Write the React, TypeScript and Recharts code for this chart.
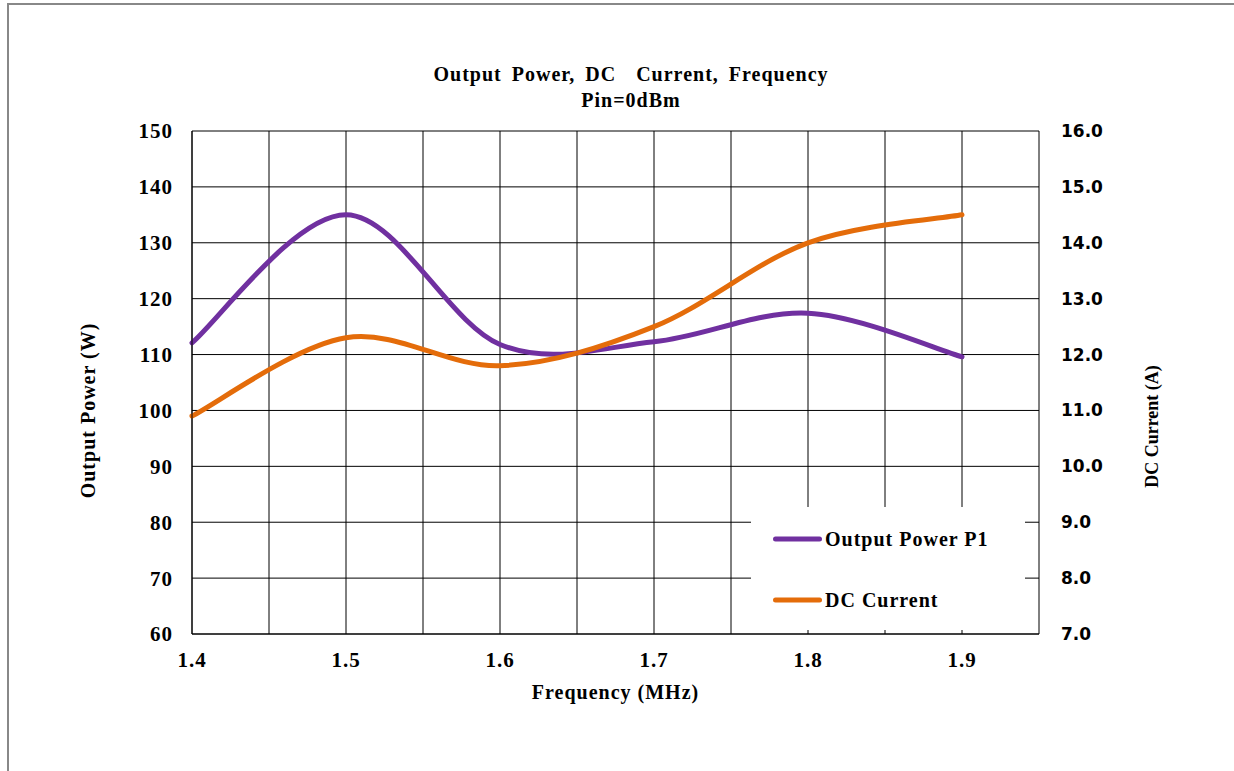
import { CartesianGrid, Legend, Line, LineChart, XAxis, YAxis } from "recharts";

const frequency = [1.4, 1.5, 1.6, 1.7, 1.8, 1.9];
const outputPower = [112.1, 135.0, 111.8, 112.3, 117.4, 109.6];
const dcCurrent = [10.9, 12.3, 11.8, 12.5, 14.0, 14.5];

const xTicks = [1.4, 1.45, 1.5, 1.55, 1.6, 1.65, 1.7, 1.75, 1.8, 1.85, 1.9, 1.95];
const powerTicks = [60, 70, 80, 90, 100, 110, 120, 130, 140, 150];
const currentTicks = [7, 8, 9, 10, 11, 12, 13, 14, 15, 16];
const legendOrder = ["power", "current"];

const PURPLE = "#7030a0";
const ORANGE = "#e46c0a";
const SERIF = "'Liberation Serif', 'Times New Roman', serif";

const data = frequency.map((f, i) => ({ f, power: outputPower[i], current: dcCurrent[i] }));

// Excel-like smoothed line (uniform Catmull-Rom)
function smoothCurve(context: any) {
  let pts: number[][] = [];
  return {
    areaStart() {},
    areaEnd() {},
    lineStart() {
      pts = [];
    },
    point(x: number, y: number) {
      pts.push([+x, +y]);
    },
    lineEnd() {
      if (!pts.length) return;
      context.moveTo(pts[0][0], pts[0][1]);
      for (let i = 0; i < pts.length - 1; i++) {
        const p0 = pts[i - 1] || pts[i];
        const p1 = pts[i];
        const p2 = pts[i + 1];
        const p3 = pts[i + 2] || p2;
        context.bezierCurveTo(
          p1[0] + (p2[0] - p0[0]) / 6,
          p1[1] + (p2[1] - p0[1]) / 6,
          p2[0] - (p3[0] - p1[0]) / 6,
          p2[1] - (p3[1] - p1[1]) / 6,
          p2[0],
          p2[1]
        );
      }
    },
  };
}

const xLabel = (v: number) => {
  const r = Math.round(v * 100);
  return r % 10 === 0 && r < 195 ? v.toFixed(1) : "";
};

function LegendBox({ payload }: any) {
  const items = legendOrder
    .map((k) => (payload || []).find((p: any) => p.dataKey === k))
    .filter(Boolean);
  return (
    <div style={{ position: "relative", width: "100%", height: "100%" }}>
      {items.map((p: any, i: number) => (
        <div
          key={p.value}
          style={{ position: "absolute", left: 22, top: 32 + i * 61, display: "flex", alignItems: "center", transform: "translateY(-50%)" }}
        >
          <div style={{ width: 49, height: 5, borderRadius: 3, background: p.color }} />
          <span style={{ marginLeft: 3, fontFamily: SERIF, fontWeight: 700, fontSize: 20, letterSpacing: 1, color: "#000" }}>
            {p.value}
          </span>
        </div>
      ))}
    </div>
  );
}

export default function App() {
  const tickSerif = { fontFamily: SERIF, fontWeight: 700, fontSize: 21, fill: "#000", letterSpacing: 1 };
  return (
    <div style={{ position: "fixed", left: 0, top: 0, width: 1234, height: 771, background: "#fff", overflow: "hidden" }}>
      <div style={{ position: "absolute", left: 7, top: 3, width: 1300, height: 900, border: "2px solid #888" }} />
      <div
        style={{
          position: "absolute",
          left: 0,
          top: 61,
          width: 1262,
          textAlign: "center",
          fontFamily: SERIF,
          fontWeight: 700,
          fontSize: 20,
          lineHeight: "26px",
          letterSpacing: 1,
          wordSpacing: 4,
          color: "#000",
        }}
      >
        <div style={{ whiteSpace: "pre" }}>Output Power, DC  Current, Frequency</div>
        <div>Pin=0dBm</div>
      </div>
      <LineChart width={1234} height={771} data={data} margin={{ top: 131, right: 75, bottom: 57, left: 60 }}>
        <CartesianGrid yAxisId="left" stroke="#000" strokeWidth={1} />
        <XAxis
          dataKey="f"
          type="number"
          domain={[1.4, 1.95]}
          ticks={xTicks}
          tickFormatter={xLabel}
          interval={0}
          height={80}
          tickSize={0}
          tickMargin={18}
          axisLine={{ stroke: "#000" }}
          tick={tickSerif}
          label={{
            content: ({ viewBox }: any) => (
              <text x={viewBox.x + viewBox.width / 2} y={viewBox.y + 65} textAnchor="middle" style={{ ...tickSerif, fontSize: 20 }}>
                Frequency (MHz)
              </text>
            ),
          }}
        />
        <YAxis
          yAxisId="left"
          domain={[60, 150]}
          ticks={powerTicks}
          interval={0}
          width={132}
          tickSize={0}
          tickMargin={19}
          axisLine={{ stroke: "#000" }}
          tick={tickSerif}
          label={{
            content: ({ viewBox }: any) => {
              const x = viewBox.x + 35;
              const y = viewBox.y + viewBox.height / 2 + 28;
              return (
                <text x={x} y={y} textAnchor="middle" transform={`rotate(-90 ${x} ${y})`} style={{ ...tickSerif, fontSize: 20 }}>
                  Output Power (W)
                </text>
              );
            },
          }}
        />
        <YAxis
          yAxisId="right"
          orientation="right"
          domain={[7, 16]}
          ticks={currentTicks}
          interval={0}
          width={120}
          tickSize={0}
          tickMargin={22}
          axisLine={false}
          tickFormatter={(v: number) => v.toFixed(1)}
          tick={{ fontFamily: "'DejaVu Sans', sans-serif", fontWeight: 700, fontSize: 17, fill: "#000" }}
          label={{
            content: ({ viewBox }: any) => {
              const x = viewBox.x + 119;
              const y = viewBox.y + viewBox.height / 2 + 44;
              return (
                <text x={x} y={y} textAnchor="middle" transform={`rotate(-90 ${x} ${y})`} style={{ ...tickSerif, fontSize: 18, letterSpacing: 0 }}>
                  DC Current (A)
                </text>
              );
            },
          }}
        />
        <Line
          yAxisId="left"
          dataKey="power"
          name="Output Power P1"
          type={smoothCurve as any}
          stroke={PURPLE}
          strokeWidth={5}
          strokeLinecap="round"
          dot={false}
          activeDot={false}
          isAnimationActive={false}
        />
        <Line
          yAxisId="right"
          dataKey="current"
          name="DC Current"
          type={smoothCurve as any}
          stroke={ORANGE}
          strokeWidth={5}
          strokeLinecap="round"
          dot={false}
          activeDot={false}
          isAnimationActive={false}
        />
        <Legend
          layout="horizontal"
          verticalAlign="middle"
          align="center"
          content={<LegendBox />}
          wrapperStyle={{ position: "absolute", left: 751, top: 507, width: 274, height: 123, background: "#fff" }}
        />
      </LineChart>
    </div>
  );
}
